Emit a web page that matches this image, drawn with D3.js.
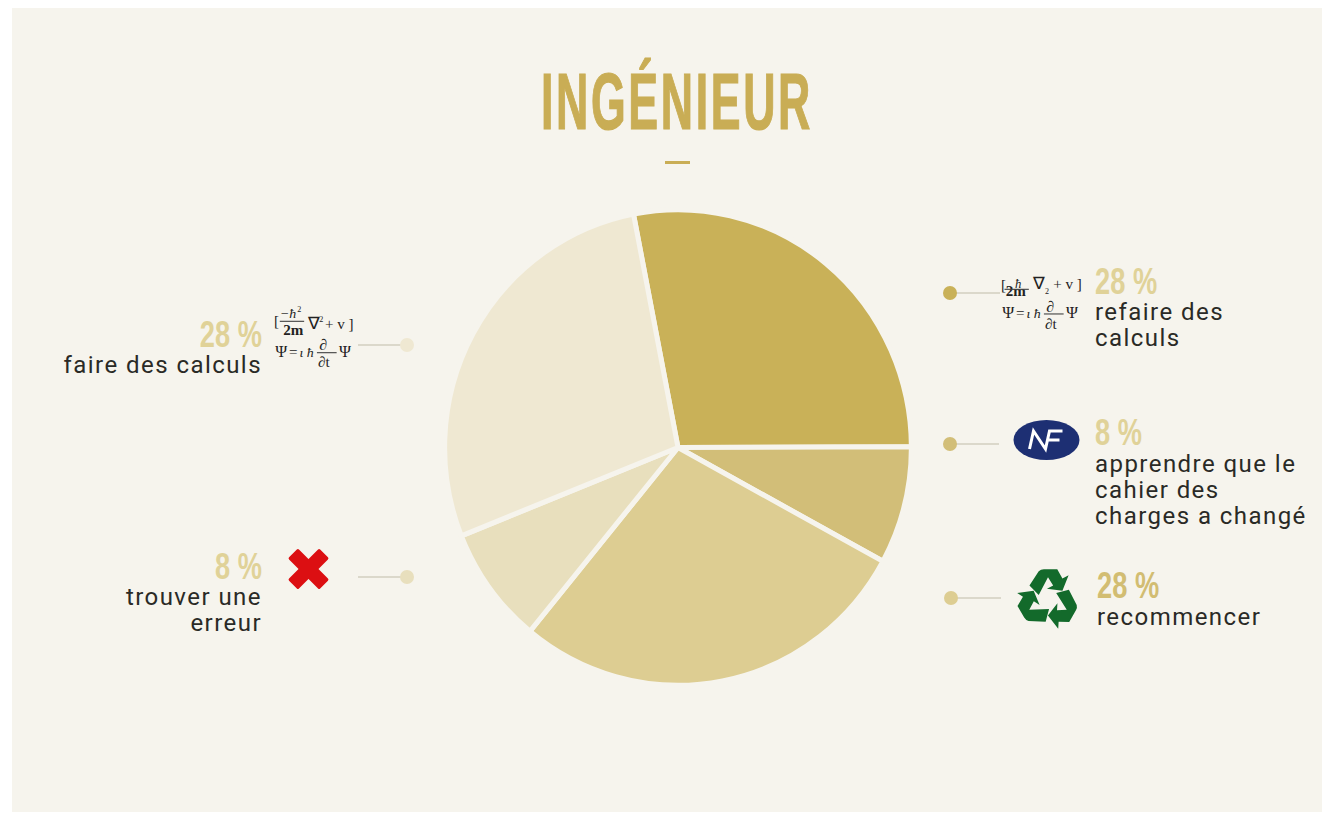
<!DOCTYPE html>
<html>
<head>
<meta charset="utf-8">
<script src="https://cdn.jsdelivr.net/npm/d3@7"></script>
<style>
    html, body { margin: 0; padding: 0; background: #fff; }
    svg { display: block; }
    .pct { font-family: "Liberation Sans", sans-serif; font-weight: bold; font-size: 31px; }
    .lab { font-family: "Roboto", sans-serif; font-size: 24px; letter-spacing: 1.45px; fill: #2a2a26; }
    .eq { font-family: "Liberation Serif", serif; fill: #222; }
</style>
</head>
<body>
<div id="chart"></div>
<script>
const categories = ["refaire des calculs", "apprendre que le cahier des charges a changé", "recommencer", "trouver une erreur", "faire des calculs"];
const values = [28, 8, 28, 8, 28];
const colors = ["#c9b158", "#d2be78", "#ddcd92", "#e8dfbd", "#efe8d2"];
const labelLines = [
    ["refaire des", "calculs"],
    ["apprendre que le", "cahier des", "charges a changé"],
    ["recommencer"],
    ["trouver une", "erreur"],
    ["faire des calculs"]
];

const width = 1322, height = 813;
const bg = "#f6f4ed";

const svg = d3.select("#chart").append("svg")
    .attr("width", width)
    .attr("height", height);

// panel behind everything
svg.append("rect")
    .attr("x", 12).attr("y", 8)
    .attr("width", 1310).attr("height", 804)
    .attr("fill", bg);

// Title, stretched because the original font is a tall condensed one
svg.append("text")
    .attr("transform", "translate(677,129) scale(1,1.55)")
    .attr("text-anchor", "middle")
    .attr("font-family", "'Liberation Sans', sans-serif")
    .attr("font-weight", "bold")
    .attr("font-size", 51)
    .attr("letter-spacing", 3)
    .attr("textLength", 272)
    .attr("lengthAdjust", "spacingAndGlyphs")
    .attr("fill", "#c9ad55")
    .attr("stroke", "#c9ad55")
    .attr("stroke-width", 0.8)
    .text("INGÉNIEUR");

svg.append("rect")
    .attr("x", 665).attr("y", 161)
    .attr("width", 25).attr("height", 3)
    .attr("fill", "#c9ad55");

// Pie, the original is very slightly taller than wide
const pie = d3.pie().sort(null).value(d => d)
    .startAngle(-11 * Math.PI / 180)
    .endAngle(349 * Math.PI / 180);
const arc = d3.arc().innerRadius(0).outerRadius(235);

svg.append("g")
    .attr("transform", "translate(678,447.5) scale(0.993,1.012)")
    .selectAll("path")
    .data(pie(values))
    .enter()
    .append("path")
    .attr("d", arc)
    .attr("fill", (d, i) => colors[i])
    .attr("stroke", bg)
    .attr("stroke-width", 5)
    .attr("stroke-linejoin", "round");

// Where each callout sits, same order as categories
const callouts = [
    {side: "r", dotX: 950, y: 293, lineEnd: 1000, textX: 1095, pctY: 294, labY: 320},
    {side: "r", dotX: 950, y: 444, lineEnd: 999, textX: 1095, pctY: 445, labY: 472},
    {side: "r", dotX: 951, y: 598, lineEnd: 1001, textX: 1097, pctY: 598, labY: 625},
    {side: "l", dotX: 407, y: 577, lineEnd: 358, textX: 262, pctY: 579, labY: 605},
    {side: "l", dotX: 407, y: 345, lineEnd: 358, textX: 262, pctY: 347, labY: 373}
];

callouts.forEach((c, i) => {
    const g = svg.append("g");
    g.append("line")
        .attr("x1", c.dotX).attr("x2", c.lineEnd)
        .attr("y1", c.y).attr("y2", c.y)
        .attr("stroke", "#bfbbaa")
        .attr("stroke-width", 1.2);
    g.append("circle")
        .attr("cx", c.dotX).attr("cy", c.y).attr("r", 7)
        .attr("fill", colors[i]);

    const anchor = c.side === "r" ? "start" : "end";
    g.append("text")
        .attr("class", "pct")
        .attr("transform", `translate(${c.textX},${c.pctY}) scale(0.88,1.2)`)
        .attr("text-anchor", anchor)
        .attr("fill", i === 2 ? "#d2bd72" : "#e0d298")
        .text(values[i] + " %");

    labelLines[i].forEach((line, k) => {
        g.append("text")
            .attr("class", "lab")
            .attr("x", c.textX)
            .attr("y", c.labY + k * 26)
            .attr("text-anchor", anchor)
            .text(line);
    });
});

// Schrodinger equation icon, used twice
function equation(x, y, messy) {
    const g = svg.append("g").attr("class", "eq").attr("transform", `translate(${x},${y}) scale(1.16,1.12)`);
    const t = (tx, ty, s, size, extra) => {
        const el = g.append("text").attr("x", tx).attr("y", ty).attr("font-size", size).text(s);
        if (extra) el.attr("font-style", extra);
        return el;
    };
    if (messy) {
        t(0, 12, "[", 13);
        t(4, 17, "2m", 13).attr("font-weight", "bold");
        t(12, 10, "ħ", 11).attr("font-style", "italic");
        g.append("line").attr("x1", 3).attr("x2", 24).attr("y1", 11).attr("y2", 11).attr("stroke", "#444");
        t(28, 11, "∇", 15);
        t(38, 15, "2", 7);
        t(45, 11, "+ v ]", 13);
    } else {
        t(0, 15, "[", 13);
        t(5, 8, "−ħ", 12, "italic");
        t(20, 3, "2", 7);
        g.append("line").attr("x1", 5).attr("x2", 26).attr("y1", 11).attr("y2", 11).attr("stroke", "#444");
        t(8, 23, "2m", 13).attr("font-weight", "bold");
        t(29, 18, "∇", 15);
        t(39, 12, "2", 7);
        t(44, 18, "+ v ]", 13);
    }
    // second line is the same on both
    const dy = messy ? 37 : 43;
    t(1, dy, "Ψ", 14);
    t(13, dy, "=", 13);
    t(22, dy, "ι ħ", 12, "italic");
    t(39, dy - 6, "∂", 14, "italic");
    g.append("line").attr("x1", 37).attr("x2", 54).attr("y1", dy - 4).attr("y2", dy - 4).attr("stroke", "#444");
    t(38, dy + 9, "∂t", 13);
    t(56, dy, "Ψ", 14);
}
equation(1001, 277, true);
equation(274, 309, false);

// NF logo
const nf = svg.append("g").attr("transform", "translate(1046.5,440)");
nf.append("ellipse").attr("rx", 33).attr("ry", 20).attr("fill", "#1d2f73");
nf.append("path")
    .attr("d", "M-17,9 L-13,-9 L-1,9 L3,-9 L16,-9 M1,0 L13,0")
    .attr("fill", "none").attr("stroke", "#fff").attr("stroke-width", 3);

// Recycling symbol, one arrow rotated three times
const rec = svg.append("g").attr("transform", "translate(1048,599) scale(1.03)");
[0, 120, 240].forEach(a => {
    rec.append("path")
        .attr("transform", `rotate(${a})`)
        .attr("d", "M-18,-13 L-9,-27 Q-7,-29 -4,-29 L9,-29 L14,-20 L20,-23 L14,-8 L-1,-10 L5,-13 L0,-21 L-9,-4 Z")
        .attr("fill", "#136a2b");
});

// Red cross
const cross = svg.append("g").attr("transform", "translate(308.5,569) rotate(45)");
cross.append("rect").attr("x", -22).attr("y", -7).attr("width", 44).attr("height", 14).attr("rx", 1.5).attr("fill", "#dc0f12");
cross.append("rect").attr("x", -7).attr("y", -22).attr("width", 14).attr("height", 44).attr("rx", 1.5).attr("fill", "#dc0f12");
</script>
</body>
</html>
